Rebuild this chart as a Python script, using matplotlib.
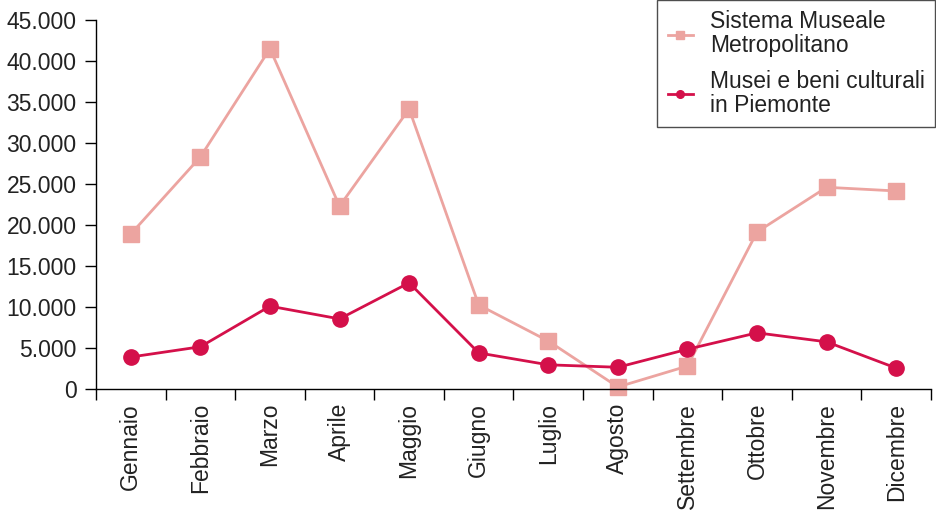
import numpy as np
import matplotlib
matplotlib.use("Agg")
from matplotlib import pyplot as plt
from matplotlib.ticker import FuncFormatter

plt.rcParams['font.family'] = ['Liberation Sans', 'DejaVu Sans']

mesi = ["Gennaio", "Febbraio", "Marzo", "Aprile", "Maggio", "Giugno",
        "Luglio", "Agosto", "Settembre", "Ottobre", "Novembre", "Dicembre"]
sistema_museale = [18900, 28300, 41500, 22300, 34150, 10250,
                   5850, 250, 2800, 19150, 24600, 24150]
musei_piemonte = [3900, 5150, 10100, 8550, 12950, 4400,
                  2950, 2650, 4850, 6850, 5750, 2550]
yticks = list(range(0, 45001, 5000))

rosa = "#eca4a0"
rosso = "#d4104a"
fs = 16.5

fig = plt.figure(figsize=(9.37, 5.16), dpi=100)
ax = fig.add_axes([96/937, 1-389/516, 835/937, 369/516])

x = np.arange(len(mesi)) + 0.5
ax.plot(x, sistema_museale, color=rosa, lw=2, marker="s", ms=11.5,
        label="Sistema Museale\nMetropolitano")
ax.plot(x, musei_piemonte, color=rosso, lw=2, marker="o", ms=11,
        label="Musei e beni culturali\nin Piemonte")

ax.set_xlim(0, len(mesi))
ax.set_ylim(0, 45000)
ax.set_xticks(np.arange(len(mesi) + 1))
ax.set_xticklabels([])
ax.set_xticks(x, minor=True)
ax.set_xticklabels(mesi, minor=True, rotation=90, fontsize=fs, color="#222222")
ax.tick_params(axis="x", which="minor", length=0, pad=10)
ax.tick_params(axis="x", which="major", length=8, width=1)
ax.set_yticks(yticks)
ax.yaxis.set_major_formatter(FuncFormatter(lambda v, p: f"{int(v):,}".replace(",", ".")))
ax.tick_params(axis="y", length=8, width=1, labelsize=fs, labelcolor="#222222", pad=6)

for s in ["top", "right"]:
    ax.spines[s].set_visible(False)
for s in ["left", "bottom"]:
    ax.spines[s].set_linewidth(1)
for l in ax.lines:
    l.set_clip_on(False)

leg = ax.legend(loc="upper right", bbox_to_anchor=(1.005, 1.054), fontsize=fs,
                frameon=True, fancybox=False, edgecolor="#222222",
                markerscale=0.5, handlelength=1.1, labelspacing=0.55,
                borderpad=0.45, handletextpad=0.75, borderaxespad=0)
leg.get_frame().set_linewidth(1)
for t in leg.get_texts():
    t.set_color("#222222")
    t.set_linespacing(1.05)

fig.savefig("out.png", dpi=100)
